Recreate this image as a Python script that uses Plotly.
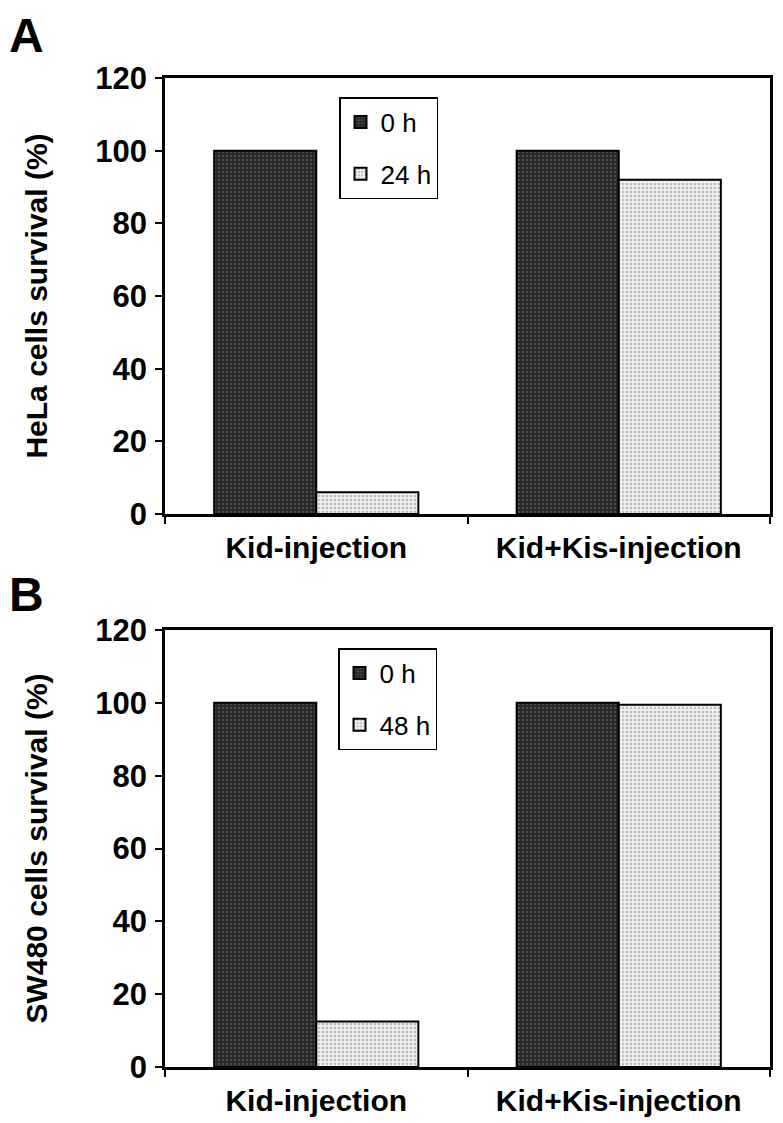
import plotly.graph_objects as go

categories = ["Kid-injection", "Kid+Kis-injection"]
hela_0h = [100, 100]
hela_24h = [6, 92]
sw480_0h = [100, 100]
sw480_48h = [12.5, 99.5]
y_ticks = [0, 20, 40, 60, 80, 100, 120]

W, H = 775, 1115  # page body has an 8px margin
FONT = "Liberation Sans, Arial, sans-serif"
dark = dict(color="#333333", line=dict(color="black", width=2),
            pattern=dict(shape=".", bgcolor="#262626", fgcolor="#707070", size=4, solidity=0.35))
light = dict(color="#e6e6e6", line=dict(color="black", width=2),
             pattern=dict(shape=".", bgcolor="#f0f0f0", fgcolor="#8c8c8c", size=4, solidity=0.35))

fig = go.Figure()
fig.add_trace(go.Bar(x=categories, y=hela_0h, name="0 h", marker=dark, xaxis="x", yaxis="y", legend="legend", legendgroup="a0"))
fig.add_trace(go.Bar(x=categories, y=hela_24h, name="24 h", marker=light, xaxis="x", yaxis="y", legend="legend", legendgroup="a1"))
fig.add_trace(go.Bar(x=categories, y=sw480_0h, name="0 h", marker=dark, xaxis="x2", yaxis="y2", legend="legend2", legendgroup="b0"))
fig.add_trace(go.Bar(x=categories, y=sw480_48h, name="48 h", marker=light, xaxis="x2", yaxis="y2", legend="legend2", legendgroup="b1"))

xd = [157 / W, 762 / W]
ya = [1 - 506 / H, 1 - 70 / H]
yb = [1 - 1059 / H, 1 - 622 / H]

xcommon = dict(domain=xd, showline=True, mirror=True, linecolor="black", linewidth=2.5,
               ticks="outside", tickson="boundaries", ticklen=7, tickwidth=2, tickcolor="black",
               tickfont=dict(family=FONT, size=30, color="black", weight="bold"),
               showgrid=False, ticklabelstandoff=5, automargin=False)
ycommon = dict(range=[0, 120], tickvals=y_ticks, showline=True, mirror=True, linecolor="black",
               linewidth=2.5, ticks="outside", ticklen=7, tickwidth=2, tickcolor="black",
               tickfont=dict(family=FONT, size=31, color="black", weight="bold"),
               showgrid=False, zeroline=False, ticklabelstandoff=2, automargin=False)

legcommon = dict(font=dict(family=FONT, size=26, color="black"), bordercolor="black", borderwidth=1.5,
                 bgcolor="white", xanchor="left", yanchor="top", traceorder="grouped",
                 tracegroupgap=15, itemwidth=30)

fig.update_layout(
    width=W, height=H, margin=dict(l=0, r=0, t=0, b=0, pad=0, autoexpand=False),
    plot_bgcolor="white", paper_bgcolor="white",
    barmode="group", bargap=0.325, bargroupgap=0,
    xaxis=dict(xcommon, anchor="y"),
    yaxis=dict(ycommon, domain=ya, anchor="x",
               title=dict(text="HeLa cells survival (%)", standoff=39,
                          font=dict(family=FONT, size=30, color="black", weight="bold"))),
    xaxis2=dict(xcommon, anchor="y2"),
    yaxis2=dict(ycommon, domain=yb, anchor="x2",
                title=dict(text="SW480 cells survival (%)", standoff=39,
                           font=dict(family=FONT, size=30, color="black", weight="bold"))),
    legend=dict(legcommon, x=331 / W, y=1 - 89 / H),
    legend2=dict(legcommon, x=330 / W, y=1 - 640 / H),
    annotations=[
        dict(text="A", x=0, y=1, xref="paper", yref="paper", xanchor="left", yanchor="top",
             showarrow=False, borderpad=0, font=dict(family=FONT, size=48, color="black", weight="bold")),
        dict(text="B", x=0, y=1 - 586 / H, xref="paper", yref="paper", xanchor="left", yanchor="middle",
             showarrow=False, borderpad=0, font=dict(family=FONT, size=48, color="black", weight="bold")),
    ],
)

fig.write_html("out.html")
